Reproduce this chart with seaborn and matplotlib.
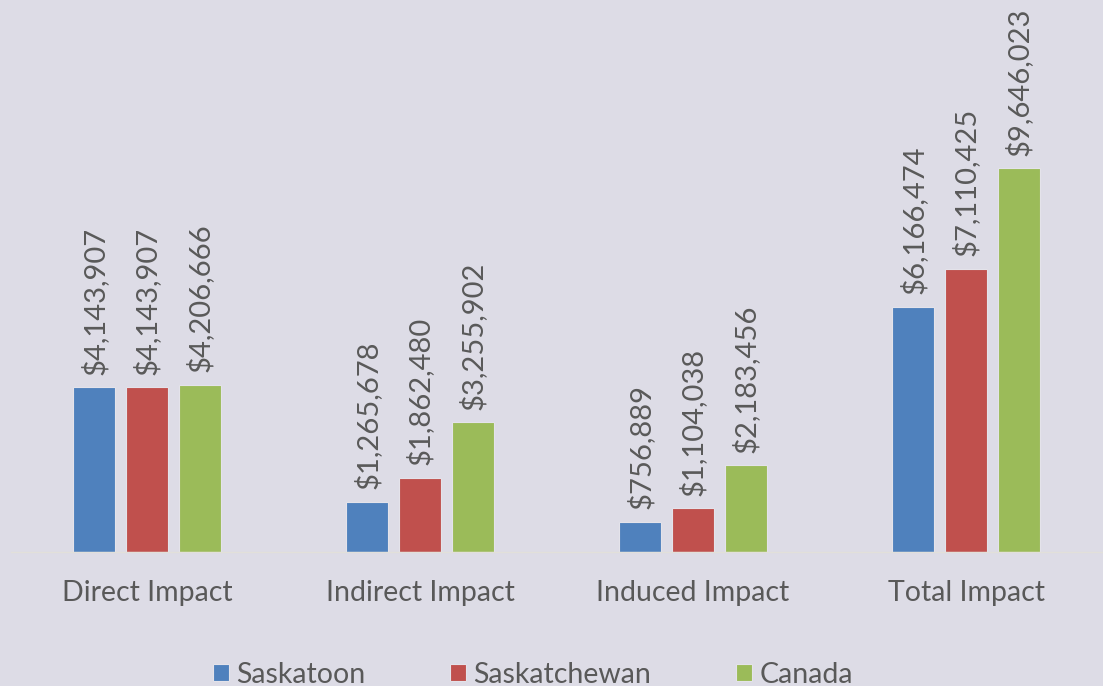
import matplotlib.pyplot as plt
import pandas as pd
import seaborn as sns

categories = ["Direct Impact", "Indirect Impact", "Induced Impact", "Total Impact"]
regions = ["Saskatoon", "Saskatchewan", "Canada"]
saskatoon = [4143907, 1265678, 756889, 6166474]
saskatchewan = [4143907, 1862480, 1104038, 7110425]
canada = [4206666, 3255902, 2183456, 9646023]

colors = ["#4F81BD", "#C0504D", "#9BBB59"]
bg = "#DDDCE6"
text_color = "#595959"


def main():
    df = pd.DataFrame({
        "category": categories * 3,
        "region": [r for r in regions for _ in categories],
        "value": saskatoon + saskatchewan + canada,
    })

    sns.set_style("white")
    plt.rcParams["font.family"] = ["Lato", "DejaVu Sans"]

    fig = plt.figure(figsize=(11.03, 6.86), dpi=100, facecolor=bg)
    ax = fig.add_axes([10.5 / 1103, (686 - 552) / 686, 1092 / 1103, 552 / 686])
    ax.set_facecolor(bg)

    sns.barplot(
        data=df,
        x="category",
        y="value",
        hue="region",
        order=categories,
        hue_order=regions,
        palette=colors,
        width=0.58,
        gap=0.2,
        edgecolor="#E4E3EA",
        linewidth=0.8,
        saturation=1,
        ax=ax,
    )

    for container in ax.containers:
        labels = [f"${v:,.0f}" for v in container.datavalues]
        ax.bar_label(container, labels=labels, rotation=90, padding=9,
                     fontsize=21, color=text_color)

    ax.set_xlim(-0.5, 3.5)
    ax.set_ylim(0, 552 * 25120)
    ax.set_xlabel("")
    ax.set_ylabel("")
    ax.set_yticks([])
    ax.tick_params(axis="x", length=0, labelsize=20.5, labelcolor=text_color, pad=20)
    for side in ["top", "right", "left"]:
        ax.spines[side].set_visible(False)
    ax.spines["bottom"].set_color("#E2E0DA")
    ax.spines["bottom"].set_linewidth(1)

    handles, labels = ax.get_legend_handles_labels()
    ax.legend_.remove()
    fig.legend(handles, labels, loc="lower center", bbox_to_anchor=(0.483, -0.04),
               ncol=3, frameon=False, fontsize=20.5, labelcolor=text_color,
               handlelength=0.55, handleheight=0.55, handletextpad=0.25,
               columnspacing=3.0)

    fig.savefig("out.png", dpi=100, facecolor=bg)


if __name__ == "__main__":
    main()
